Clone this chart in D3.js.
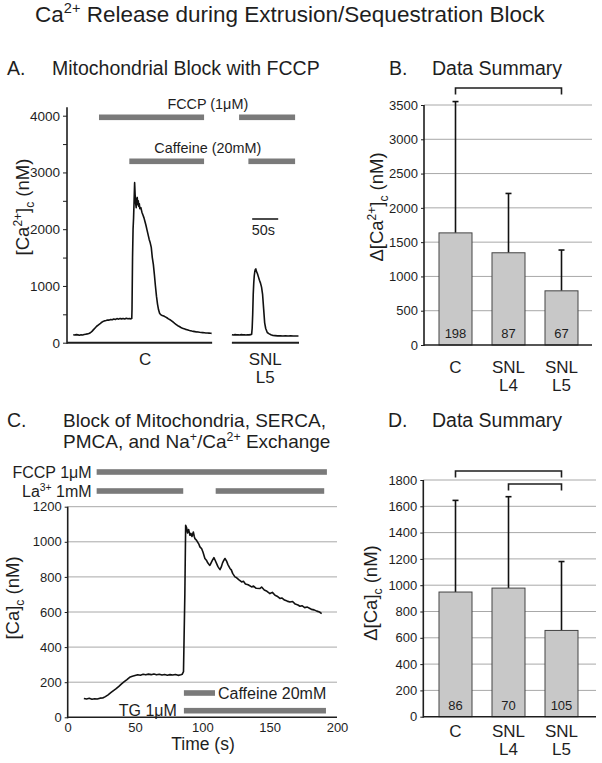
<!DOCTYPE html>
<html><head><meta charset="utf-8">
<script src="https://cdn.jsdelivr.net/npm/d3@7"></script>
<style>
body{margin:0;background:#fff}
svg{display:block}
text{font-family:"Liberation Sans",Arial,Helvetica,sans-serif;fill:#1e1e1e}
</style>
</head><body>
<svg id="fig" width="602" height="763"></svg>
<script>
// ---------------- DATA ----------------
// Panel A: traces, [time (s), [Ca2+]c (nM)]
const traceA_control = [
 [12,140],[15,135],[18,142],[21,138],[24,132],[27,140],[30,137],[33,145],[36,150],[39,155],[42,162],[45,175],[48,200],[51,230],[54,260],[57,290],[60,310],[63,330],[66,355],[69,372],[72,385],[75,392],[78,400],[81,398],[84,410],[87,405],[90,418],[93,410],[96,425],[99,415],[102,428],[105,420],[108,425],[111,418],[114,430],[117,422],[120,426],[123,420],[124.5,428],
 [125,600],[126,1500],[127,2000],[128,2200],[129,2500],[130,2820],[131,2600],[132,2450],[133,2380],[134,2520],[135,2560],[136,2430],[137,2500],[138,2400],[139,2450],[140,2360],[142,2380],[144,2300],[146,2250],[148,2200],[150,2130],[152,2060],[154,1980],[156,1900],[158,1820],[160,1760],[162,1680],[164,1500],[166,1380],[168,1200],[170,1000],[172,820],[174,680],[176,580],[178,520],[180,495],
 [183,480],[186,470],[189,455],[192,440],[195,420],[198,405],[201,385],[204,365],[207,340],[210,320],[213,300],[216,285],[219,268],[222,255],[225,245],[228,235],[231,228],[234,218],[237,212],[240,205],[243,200],[246,195],[249,190],[252,188],[255,183],[258,180],[261,178],[264,175],[267,172],[270,170],[273,168],[276,166],[278,165]
];
const traceA_L5 = [
 [317,140],[320,135],[323,142],[326,138],[329,140],[332,136],[335,142],[338,138],[341,140],[344,137],[347,141],[350,138],[353,142],[355,150],
 [356,260],[357,500],[358,850],[359,1050],[360,1180],[361,1250],[362,1290],[363,1300],[364,1260],[366,1220],[368,1160],[370,1100],[372,1050],[374,980],[376,850],[378,600],[380,350],[382,250],[385,180],[388,160],[392,140],[396,128],[400,125],[405,120],[410,123],[415,119],[420,121],[425,118],[430,120],[435,118],[440,117],[445,118]
];
const recordingsA = [[0,279],[317,446]];          // recorded periods (s)
const drugsA = [
  {label:"FCCP (1μM)",      periods:[[61.5,263.5],[330.8,438.5]]},
  {label:"Caffeine (20mM)", periods:[[119.8,263.5],[348.7,438.5]]}
];
const groupsA = [{lines:["C"], t:150},{lines:["SNL","L5"], t:381}];
const scaleBarSec = 50;
const yTicksA = [0,500,1000,1500,2000,2500,3000,3500,4000];

// Panel B: summary
const categories = [["C"],["SNL","L4"],["SNL","L5"]];
const meanB = [1635, 1345, 790];
const sdB   = [1915, 865, 595];
const nB    = [198, 87, 67];
const yTicksB = [0,500,1000,1500,2000,2500,3000,3500];
const signifB = [[0,2]];

// Panel C: trace [time (s), [Ca]c (nM)]
const traceC = [
 [12,107],[14,104],[16,108],[18,103],[20,106],[22,104],[24,109],[26,110],[28,118],[30,128],[32,140],[34,152],[36,163],[38,176],[40,190],[42,203],[44,215],[46,228],[48,234],[50,238],[52,242],[54,240],[56,245],[58,242],[60,246],[62,243],[64,247],[66,242],[68,245],[70,241],[72,244],[74,240],[76,243],[78,241],[80,244],[82,239],[84,242],[85,245],[86,260],
 [87,700],[87.6,1094],[88.3,1080],[89,1050],[89.8,1070],[90.8,1037],[91.5,1048],[92.3,1030],[93.3,1056],[94,1030],[94.5,1018],[95.5,1010],[96.5,998],[97.5,985],[98.2,971],[99.5,960],[100.5,940],[101.9,905],[103,895],[104,880],[105,870],[105.6,866],[106.5,880],[107.5,895],[108.6,910],[109.5,895],[110.6,876],[111.5,860],[112.3,850],[113.1,842],[114,855],[115,880],[116,895],[116.8,905],[118,890],[119,870],[120.5,848],[121.5,840],[122.5,820],[124.2,800],[125.5,795],[127,785],[129.2,771],[130.5,775],[132,760],[134,755],[136.6,743],[138,748],[140,735],[142.8,734],[144,742],[146,725],[148,718],[150.2,705],[152,712],[154,695],[155.5,690],[157.6,677],[159,680],[161,668],[163,662],[165,657],[167,660],[169,645],[171,640],[172.5,633],[174,636],[176,625],[178,628],[179.9,620],[181,615],[183,612],[185,605],[187,600],[188.6,591]
];
const drugsC_top = [
  {label:["FCCP 1μM"], periods:[[21.5,192.5]]},
  {label:["La","3+"," 1mM"], periods:[[21.5,85.8],[109.9,190.5]]}
];
const drugsC_bottom = [
  {label:"Caffeine 20mM", periods:[[86.3,109.4]], side:"right"},
  {label:"TG 1μM",        periods:[[86.3,191.8]], side:"left"}
];
const xTicksC = [0,50,100,150,200];
const yTicksC = [0,200,400,600,800,1000,1200];

// Panel D: summary
const meanD = [948, 978, 656];
const sdD   = [697, 695, 524];
const nD    = [86, 70, 105];
const yTicksD = [0,200,400,600,800,1000,1200,1400,1600,1800];
const signifD = [[0,2],[1,2]];

// ---------------- DRAWING ----------------
const svg = d3.select("#fig");
svg.append("rect").attr("width",602).attr("height",763).attr("fill","#fff");
const INK = "#1e1e1e", DRUG = "#7a7a7a", GRID = "#a8a8a8", BAR = "#c8c8c8";
const fmt = d3.format("d");

function rich(sel, parts, size){
  let off = 0;
  parts.forEach(p=>{
    const [s,k] = Array.isArray(p)?p:[p];
    const target = k==="sup" ? -size*0.38 : k==="sub" ? size*0.28 : 0;
    const fs = k ? size*0.65 : size;
    sel.append("tspan").attr("dy", (target-off).toFixed(2)).style("font-size", fs+"px").text(s);
    off = target;
  });
  return sel;
}
function text(x,y,parts,size,anchor="start"){
  const t = svg.append("text").attr("x",x).attr("y",y).attr("text-anchor",anchor).style("font-size",size+"px");
  return rich(t, parts, size);
}
function vlabel(x,y,parts,size){
  const t = svg.append("text").attr("transform",`translate(${x},${y}) rotate(-90)`).attr("text-anchor","middle").style("font-size",size+"px");
  return rich(t, parts, size);
}

// Main title
text(35,22,["Ca",["2+","sup"]," Release during Extrusion/Sequestration Block"],22.5);
// Panel titles
text(7,75,["A."],19.5); text(52,75,["Mitochondrial Block with FCCP"],19.5);
text(389,75,["B."],19.5); text(432,75,["Data Summary"],19.5);
text(7,427,["C."],19.5); text(63,427,["Block of Mitochondria, SERCA,"],19);
text(63,448,["PMCA, and Na",["+","sup"],"/Ca",["2+","sup"]," Exchange"],19);
text(388,427,["D."],19.5); text(432,427,["Data Summary"],19.5);

// ===== Panel A =====
const xA = d3.scaleLinear().domain([0,446]).range([67,299]);
const yA = d3.scaleLinear().domain([0,4000]).range([342.7,115.7]);
const gA = svg.append("g");
const axA = gA.append("g").attr("transform","translate(67,0)")
  .call(d3.axisLeft(yA).tickValues(yTicksA).tickSize(4).tickPadding(3).tickFormat(d=>d%1000===0?fmt(d):""));
axA.select(".domain").remove();
axA.selectAll(".tick line").attr("stroke",INK);
axA.selectAll(".tick text").style("font-size","13.5px").attr("fill",INK).style("font-family",'"Liberation Sans",Arial,sans-serif');
gA.append("line").attr("x1",67).attr("x2",67).attr("y1",yA(0)+1).attr("y2",yA(4150)).attr("stroke",INK).attr("stroke-width",1.6);
recordingsA.forEach(([a,b])=>{
  gA.append("line").attr("x1",xA(a)).attr("x2",xA(b)).attr("y1",yA(0)).attr("y2",yA(0)).attr("stroke",INK).attr("stroke-width",2);
});
const lineA = d3.line().x(d=>xA(d[0])).y(d=>yA(d[1]));
[traceA_control, traceA_L5].forEach(tr=>{
  gA.append("path").attr("d",lineA(tr)).attr("fill","none").attr("stroke","#111").attr("stroke-width",1.6).attr("stroke-linejoin","round");
});
const drugRowA = [117.3, 161.3];
drugsA.forEach((dg,i)=>{
  dg.periods.forEach(([a,b])=>{
    gA.append("rect").attr("x",xA(a)).attr("width",xA(b)-xA(a)).attr("y",drugRowA[i]-2.8).attr("height",5.6).attr("fill",DRUG);
  });
  text(207.8, drugRowA[i]-8, [dg.label], 14.4, "middle");
});
// scale bar
gA.append("line").attr("x1",xA(356)).attr("x2",xA(356+scaleBarSec)).attr("y1",219).attr("y2",219).attr("stroke",INK).attr("stroke-width",1.6);
text(xA(356)-0.5,235,[scaleBarSec+"s"],14.4);
groupsA.forEach(g=>{
  g.lines.forEach((l,j)=> text(xA(g.t),365+j*17.5,[l],17,"middle"));
});
vlabel(29,207,["[Ca",["2+","sup"],"]",["c","sub"]," (nM)"],18.5);

// ===== Summary panels (B, D) =====
function summary(opts){
  const {y0,y1,vmax,ticks,means,sds,ns,sig,sigY,xAxis,xEnd,label,labelX,labelY,catY} = opts;
  const y = d3.scaleLinear().domain([0,vmax]).range([y0,y1]);
  const x = d3.scalePoint().domain(d3.range(categories.length)).range([455.5,561.5]);
  const g = svg.append("g");
  ticks.filter(t=>t>0).forEach(t=>{
    g.append("line").attr("x1",xAxis).attr("x2",xEnd).attr("y1",y(t)).attr("y2",y(t)).attr("stroke",GRID).attr("stroke-width",1);
  });
  const ax = g.append("g").attr("transform",`translate(${xAxis},0)`).call(d3.axisLeft(y).tickValues(ticks).tickSize(3).tickPadding(3).tickFormat(fmt));
  ax.select(".domain").remove();
  ax.selectAll(".tick line").attr("stroke",INK);
  ax.selectAll(".tick text").style("font-size","13px").attr("fill",INK).style("font-family",'"Liberation Sans",Arial,sans-serif');
  const bw = 33;
  means.forEach((m,i)=>{
    g.append("line").attr("x1",x(i)).attr("x2",x(i)).attr("y1",y(m)).attr("y2",y(m+sds[i])).attr("stroke","#111").attr("stroke-width",1.6);
    g.append("line").attr("x1",x(i)-3).attr("x2",x(i)+3).attr("y1",y(m+sds[i])).attr("y2",y(m+sds[i])).attr("stroke","#111").attr("stroke-width",1.6);
    g.append("rect").attr("x",x(i)-bw/2).attr("width",bw).attr("y",y(m)).attr("height",y(0)-y(m)).attr("fill",BAR).attr("stroke","#444").attr("stroke-width",1);
    g.append("text").attr("x",x(i)).attr("y",y(0)-7).attr("text-anchor","middle").style("font-size","13px").attr("fill","#333").text(ns[i]);
    categories[i].forEach((l,j)=> text(x(i),catY+j*17.5,[l],17,"middle"));
  });
  g.append("line").attr("x1",xAxis).attr("x2",xAxis).attr("y1",y(0)+1).attr("y2",y(vmax)).attr("stroke",INK).attr("stroke-width",1.6);
  g.append("line").attr("x1",xAxis).attr("x2",xEnd).attr("y1",y(0)).attr("y2",y(0)).attr("stroke",INK).attr("stroke-width",1.6);
  sig.forEach(([a,b],k)=>{
    const yy = sigY[k];
    g.append("path").attr("d",`M${x(a)},${yy+6.5}V${yy}H${x(b)}V${yy+6.5}`).attr("fill","none").attr("stroke",INK).attr("stroke-width",1.6);
  });
  vlabel(labelX,labelY,label,18.5);
}
summary({y0:345,y1:105,vmax:3500,ticks:yTicksB,means:meanB,sds:sdB,ns:nB,sig:signifB,sigY:[88],xAxis:424,xEnd:592,
  label:["Δ[Ca",["2+","sup"],"]",["c","sub"]," (nM)"],labelX:383,labelY:207,catY:373});
summary({y0:716.7,y1:480,vmax:1800,ticks:yTicksD,means:meanD,sds:sdD,ns:nD,sig:signifD,sigY:[471,484],xAxis:423.3,xEnd:596,
  label:["Δ[Ca]",["c","sub"]," (nM)"],labelX:377,labelY:593,catY:737});

// ===== Panel C =====
const xC = d3.scaleLinear().domain([0,200]).range([67.7,337]);
const yC = d3.scaleLinear().domain([0,1200]).range([717.3,506.7]);
const gC = svg.append("g");
yTicksC.filter(t=>t>0).forEach(t=>{
  gC.append("line").attr("x1",xC(0)).attr("x2",xC(200)).attr("y1",yC(t)).attr("y2",yC(t)).attr("stroke",GRID).attr("stroke-width",1);
});
const axCy = gC.append("g").attr("transform",`translate(${xC(0)},0)`).call(d3.axisLeft(yC).tickValues(yTicksC).tickSize(3).tickPadding(3).tickFormat(fmt));
axCy.select(".domain").remove();
const axCx = gC.append("g").attr("transform",`translate(0,${yC(0)})`).call(d3.axisBottom(xC).tickValues(xTicksC).tickSize(0).tickPadding(5).tickFormat(fmt));
axCx.select(".domain").remove();
[axCy,axCx].forEach(a=>{
  a.selectAll(".tick line").attr("stroke",INK);
  a.selectAll(".tick text").style("font-size","13px").attr("fill",INK).style("font-family",'"Liberation Sans",Arial,sans-serif');
});
gC.append("line").attr("x1",xC(0)).attr("x2",xC(0)).attr("y1",yC(0)+1).attr("y2",yC(1200)).attr("stroke",INK).attr("stroke-width",1.6);
gC.append("line").attr("x1",xC(0)).attr("x2",xC(200)).attr("y1",yC(0)).attr("y2",yC(0)).attr("stroke",INK).attr("stroke-width",1.6);
gC.append("path").attr("d",d3.line().x(d=>xC(d[0])).y(d=>yC(d[1]))(traceC)).attr("fill","none").attr("stroke","#111").attr("stroke-width",1.6).attr("stroke-linejoin","round");
const rowsTop = [472, 491];
drugsC_top.forEach((dg,i)=>{
  dg.periods.forEach(([a,b])=> gC.append("rect").attr("x",xC(a)).attr("width",xC(b)-xC(a)).attr("y",rowsTop[i]-2.8).attr("height",5.6).attr("fill",DRUG));
  const parts = dg.label.length===1 ? dg.label : [dg.label[0],[dg.label[1],"sup"],dg.label[2]];
  text(xC(dg.periods[0][0])-5, rowsTop[i]+5.6, parts, 16, "end");
});
const rowsBot = [693, 710.7];
drugsC_bottom.forEach((dg,i)=>{
  dg.periods.forEach(([a,b])=> gC.append("rect").attr("x",xC(a)).attr("width",xC(b)-xC(a)).attr("y",rowsBot[i]-2.8).attr("height",5.6).attr("fill",DRUG));
  const p = dg.periods[0];
  if(dg.side==="right") text(xC(p[1])+3, rowsBot[i]+5.6, [dg.label], 16, "start");
  else text(xC(p[0])-7, rowsBot[i]+5.6, [dg.label], 16, "end");
});
text(203,750,["Time (s)"],17.5,"middle");
vlabel(19,598,["[Ca]",["c","sub"]," (nM)"],18.5);
</script>
</body></html>
